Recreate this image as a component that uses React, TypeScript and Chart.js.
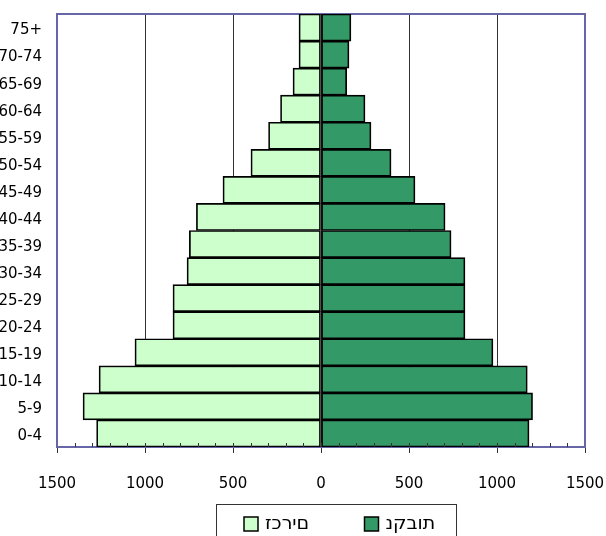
import React, { useEffect, useRef } from "react";
import { Chart, registerables } from "chart.js";

Chart.register(...registerables);

const ageGroups = ["0-4", "5-9", "10-14", "15-19", "20-24", "25-29", "30-34", "35-39", "40-44", "45-49", "50-54", "55-59", "60-64", "65-69", "70-74", "75+"];
const males = [1275, 1352, 1261, 1057, 841, 841, 761, 748, 708, 557, 398, 298, 230, 159, 125, 125];
const females = [1182, 1202, 1172, 977, 818, 818, 818, 739, 705, 534, 398, 284, 250, 146, 159, 170];
const seriesLabels = ["זכרים", "נקבות"];
const seriesColors = ["#ccffcc", "#339966"];
const axisMin = -1500;
const axisMax = 1500;
const majorStep = 500;
const minorStep = 100;

const FONT = "'DejaVu Sans', sans-serif";
const LEGEND_FONT = "19px 'DejaVu Sans', sans-serif";

const frameAndTicks = {
  id: "frameAndTicks",
  beforeDatasetsDraw(chart: any) {
    const { ctx, chartArea } = chart;
    ctx.save();
    ctx.strokeStyle = "#6666a8";
    ctx.lineWidth = 2;
    ctx.strokeRect(chartArea.left, chartArea.top, chartArea.right - chartArea.left, chartArea.bottom - chartArea.top);
    ctx.restore();
  },
  afterDatasetsDraw(chart: any) {
    const { ctx, chartArea } = chart;
    const xs = chart.scales.x;
    ctx.save();
    ctx.strokeStyle = "#333333";
    ctx.lineWidth = 1;
    ctx.beginPath();
    for (let v = axisMin + minorStep; v < axisMax; v += minorStep) {
      const px = Math.round(xs.getPixelForValue(v)) + 0.5;
      ctx.moveTo(px, chartArea.bottom - 4);
      ctx.lineTo(px, chartArea.bottom);
    }
    ctx.stroke();
    ctx.restore();
  },
  afterDraw(chart: any) {
    const { ctx } = chart;
    const ds = chart.data.datasets;
    ctx.save();
    ctx.strokeStyle = "#333333";
    ctx.lineWidth = 1;
    ctx.strokeRect(216.5, 504.5, 240, 40);
    const itemX = [244, 364.5];
    ctx.font = LEGEND_FONT;
    ctx.textBaseline = "middle";
    ctx.direction = "ltr";
    ctx.textAlign = "left";
    ds.forEach((d: any, i: number) => {
      const x = itemX[i];
      ctx.fillStyle = d.backgroundColor;
      ctx.fillRect(x, 517, 14, 14);
      ctx.strokeStyle = "#000000";
      ctx.lineWidth = 1.5;
      ctx.strokeRect(x, 517, 14, 14);
      ctx.fillStyle = "#000000";
      ctx.fillText("\u202D" + d.label + "\u202C", x + 21, 524);
    });
    ctx.restore();
  },
};

const noScalePadding = (s: any) => {
  s.paddingTop = 0;
  s.paddingBottom = 0;
  s.paddingLeft = 0;
  s.paddingRight = 0;
};

export default function App() {
  const canvasRef = useRef<HTMLCanvasElement | null>(null);

  useEffect(() => {
    if (!canvasRef.current) return;
    const chart = new Chart(canvasRef.current, {
      type: "bar",
      data: {
        labels: ageGroups,
        datasets: [
          {
            label: seriesLabels[0],
            data: males.map((v) => -v),
            backgroundColor: seriesColors[0],
            borderColor: "#000000",
            borderWidth: 1.7,
            borderSkipped: false,
            barPercentage: 1,
            categoryPercentage: 1,
          },
          {
            label: seriesLabels[1],
            data: females,
            backgroundColor: seriesColors[1],
            borderColor: "#000000",
            borderWidth: 1.7,
            borderSkipped: false,
            barPercentage: 1,
            categoryPercentage: 1,
          },
        ],
      },
      options: {
        indexAxis: "y",
        animation: false,
        responsive: false,
        layout: { padding: { left: 0, right: 21, top: 14, bottom: 0 } },
        plugins: {
          legend: { display: false },
          tooltip: { enabled: false },
          title: { display: false },
        },
        scales: {
          x: {
            type: "linear",
            min: axisMin,
            max: axisMax,
            stacked: true,
            border: { display: false },
            grid: {
              color: (c: any) => (c.tick && Math.abs(c.tick.value) === axisMax ? "rgba(0,0,0,0)" : "#333333"),
              tickColor: "#333333",
              lineWidth: 1,
              drawTicks: true,
              tickLength: 6,
            },
            ticks: {
              stepSize: majorStep,
              color: "#000000",
              padding: 22,
              font: { family: FONT, size: 15 },
              callback: (v: any) => String(Math.abs(Number(v))),
              maxRotation: 0,
            },
            afterFit: (s: any) => {
              s.height = 89;
              noScalePadding(s);
            },
          },
          y: {
            type: "category",
            stacked: true,
            reverse: true,
            border: { display: false },
            grid: { display: false, drawTicks: false },
            ticks: {
              color: "#000000",
              padding: 15,
              labelOffset: 3,
              font: { family: FONT, size: 15 },
            },
            afterFit: (s: any) => {
              s.width = 57;
              noScalePadding(s);
            },
          },
        },
      },
      plugins: [frameAndTicks],
    });
    return () => chart.destroy();
  }, []);

  return (
    <div style={{ position: "absolute", left: 0, top: 0, width: 606, height: 536, background: "#ffffff" }}>
      <canvas ref={canvasRef} width={606} height={536} style={{ width: 606, height: 536, display: "block" }} />
    </div>
  );
}
